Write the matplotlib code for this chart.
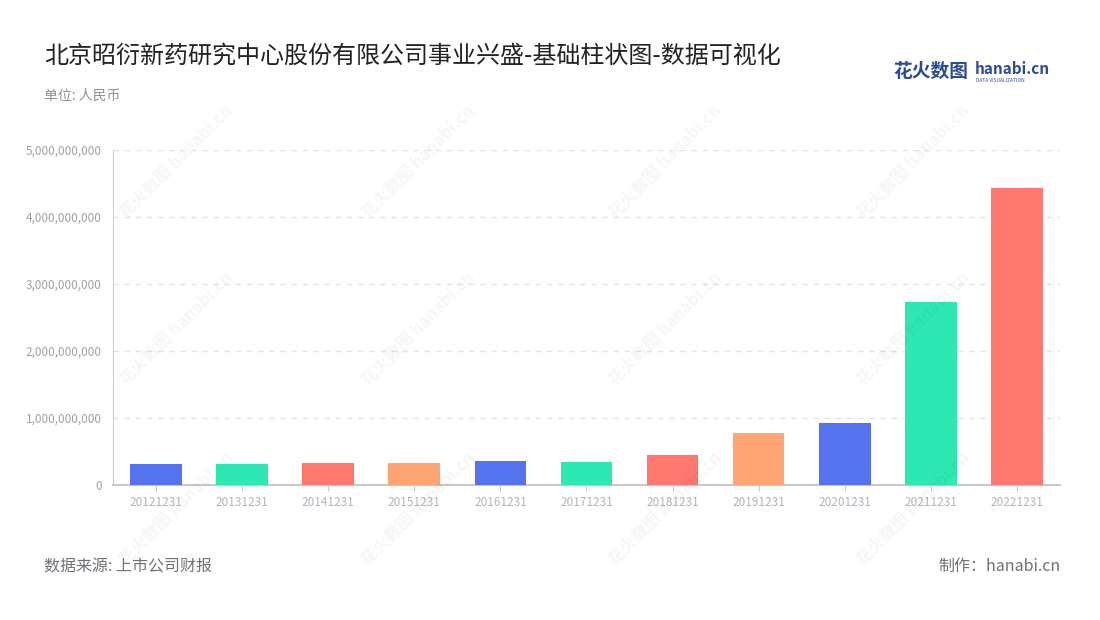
import matplotlib.pyplot as plt
from matplotlib.ticker import FuncFormatter

plt.rcParams['font.family'] = ['Noto Sans CJK SC', 'DejaVu Sans']

# --- DATA ---
dates = ['20121231', '20131231', '20141231', '20151231', '20161231', '20171231',
         '20181231', '20191231', '20201231', '20211231', '20221231']
revenue = [3.10e8, 3.10e8, 3.25e8, 3.35e8, 3.55e8, 3.45e8,
           4.55e8, 7.80e8, 9.25e8, 2.725e9, 4.435e9]
palette = ['#5673EF', '#2EE8B4', '#FF7870', '#FFA472']

fig = plt.figure(figsize=(11, 6.2), dpi=100)
ax = fig.add_axes([0.1027, 0.2177, 0.8609, 0.5403])

colors = [palette[i % len(palette)] for i in range(len(dates))]
ax.bar(range(len(dates)), revenue, width=0.6, color=colors, zorder=3)

ax.set_xlim(-0.5, len(dates) - 0.5)
ax.set_ylim(0, 5e9)
ax.set_yticks([0, 1e9, 2e9, 3e9, 4e9, 5e9])
ax.yaxis.set_major_formatter(FuncFormatter(lambda v, p: f'{int(v):,}'))
ax.set_xticks(range(len(dates)))
ax.set_xticklabels(dates)

ax.grid(axis='y', color='#e3e3e3', linestyle=(0, (4, 4)), linewidth=1, zorder=0)
for s in ['top', 'right']:
    ax.spines[s].set_visible(False)
ax.spines['left'].set_color('#d0d0d0')
ax.spines['bottom'].set_color('#c8c8c8')
ax.spines['bottom'].set_linewidth(1.5)
ax.tick_params(axis='y', length=0, labelsize=8.5, labelcolor='#a0a0a8', pad=8)
ax.tick_params(axis='x', length=4, color='#c8c8c8', labelsize=8.5,
               labelcolor='#b0b4c0', pad=4)

# faint watermarks
for wx in [0.16, 0.38, 0.605, 0.83]:
    for wy in [0.74, 0.47, 0.18]:
        fig.text(wx, wy, '花火数图 hanabi.cn', rotation=45, fontsize=12,
                 color='#000000', alpha=0.04, ha='center', va='center',
                 fontweight='bold')

fig.text(0.04, 0.911, '北京昭衍新药研究中心股份有限公司事业兴盛-基础柱状图-数据可视化',
         fontsize=17.3, color='#222222', va='center')
fig.text(0.04, 0.845, '单位: 人民币', fontsize=10, color='#909099', va='center')
fig.text(0.812, 0.884, '花火数图', fontsize=13.5, color='#2b4a9a', fontweight='bold',
         va='center')
fig.text(0.886, 0.888, 'hanabi.cn', fontsize=11, color='#2b4a9a', fontweight='bold',
         va='center')
fig.text(0.887, 0.870, 'DATA VISUALIZATION', fontsize=3.5, color='#2b4a9a', va='center')

fig.text(0.04, 0.086, '数据来源: 上市公司财报', fontsize=11.5, color='#707078', va='center')
fig.text(0.964, 0.086, '制作：hanabi.cn', fontsize=11.5, color='#707078',
         va='center', ha='right')

fig.savefig('out.png', dpi=100)
